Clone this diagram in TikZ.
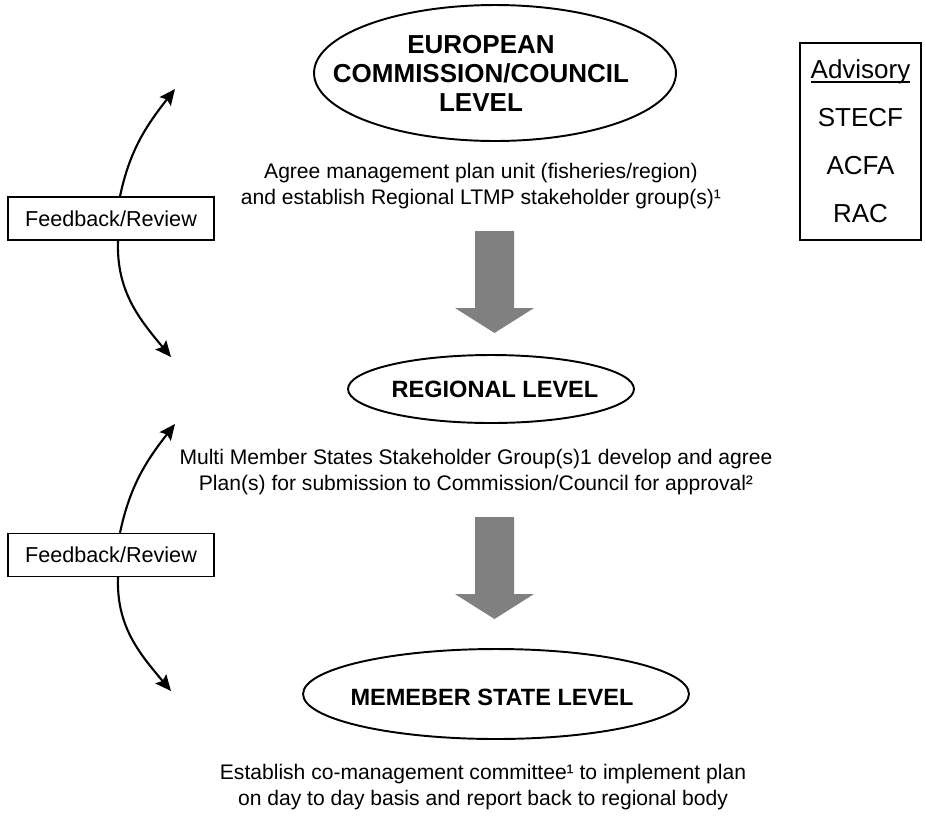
\documentclass[tikz,border=0pt]{standalone}
\usepackage{fontspec}
\setmainfont{Liberation Sans}
\usetikzlibrary{arrows.meta,shapes.geometric}

\newcommand\ulword[1]{\setbox0\hbox{#1}\rlap{\rule[-2.2pt]{\wd0}{0.9pt}}\box0}

\tikzset{
  level/.style={draw,ellipse,line width=1.1pt,inner sep=0pt},
  leveltext/.style={font=\bfseries\fontsize{14.8}{16.5}\selectfont,align=center},
  plantext/.style={font=\fontsize{12}{15}\selectfont,align=center},
  fbbox/.style={draw,line width=0.8pt,fill=white,minimum width=4.12cm,
    minimum height=0.86cm,font=\fontsize{12.3}{14}\selectfont},
  fbarrow/.style={line width=1.2pt,-{Stealth[length=9pt,width=8pt,inset=1.5pt]}},
  blockarrow/.style={fill=gray}
}

\begin{document}
\begin{tikzpicture}[x=0.02cm,y=0.02cm]
\useasboundingbox (0,0) rectangle (926,-816);

\node[level,minimum width=7.24cm,minimum height=2.72cm] (eu) at (495,-73) {};
\node[leveltext] (eutext) at (481,-73) {EUROPEAN\\COMMISSION/COUNCIL\\LEVEL};
\node[plantext] (plan1) at (481,-186)
  {Agree management plan unit (fisheries/region)\\and establish Regional LTMP stakeholder group(s)¹};

\node[level,minimum width=5.72cm,minimum height=1.36cm] (reg) at (491,-389) {};
\node[leveltext,font=\bfseries\fontsize{13.4}{15}\selectfont] (regtext) at (495,-389) {REGIONAL LEVEL};
\node[plantext] (plan2) at (476,-472)
  {Multi Member States Stakeholder Group(s)1 develop and agree\\Plan(s) for submission to Commission/Council for approval²};

\node[level,minimum width=7.72cm,minimum height=1.8cm] (ms) at (496,-694) {};
\node[leveltext,font=\bfseries\fontsize{13.4}{15}\selectfont] (mstext) at (492,-697) {MEMEBER STATE LEVEL};
\node[plantext] (plan3) at (483,-787)
  {Establish co-management committee¹ to implement plan\\on day to day basis and report back to regional body};

\node[draw,line width=1pt,minimum width=2.42cm,minimum height=3.94cm,align=center,
  font=\fontsize{14.8}{27.3}\selectfont] (adv) at (860.5,-141.5)
  {\ulword{Advisory}\\STECF\\ACFA\\RAC};

\foreach \t in {231,517}
  \fill[blockarrow] (475,-\t) -- ++(39,0) -- ++(0,-77) -- ++(20,0)
    -- ++(-39.5,-25) -- ++(-39.5,25) -- ++(20,0) -- cycle;

\coordinate (up1) at (175,-89);
\coordinate (dn1) at (171,-357);
\coordinate (up2) at (175,-424);
\coordinate (dn2) at (171,-691);
\node[fbbox] (fb1) at (111,-218.5) {Feedback/Review};
\node[fbbox] (fb2) at (111,-555) {Feedback/Review};
\foreach \f/\u/\d in {fb1/up1/dn1,fb2/up2/dn2} {
  \draw[fbarrow] ([xshift=0.18cm]\f.north) to[out=78,in=232] (\u);
  \draw[fbarrow] ([xshift=0.14cm]\f.south) to[out=-92,in=130] (\d);
}

\end{tikzpicture}
\end{document}
